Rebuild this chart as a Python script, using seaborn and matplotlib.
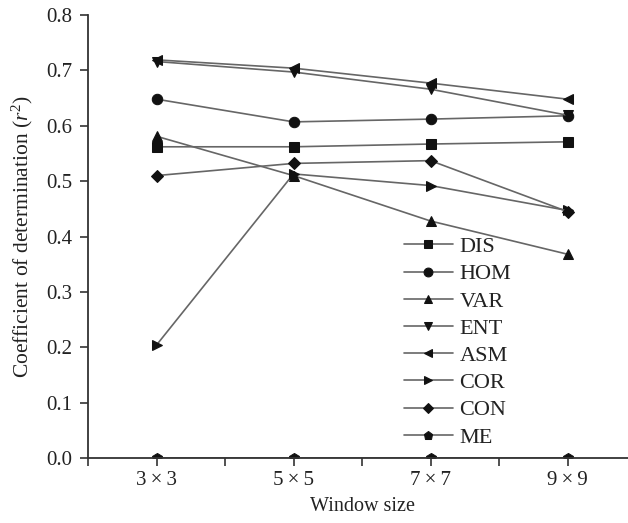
import matplotlib
matplotlib.use("Agg")
import matplotlib.pyplot as plt
import seaborn as sns
import pandas as pd
import numpy as np

window_sizes = ["3\u2009\u00d7\u20093", "5\u2009\u00d7\u20095", "7\u2009\u00d7\u20097", "9\u2009\u00d7\u20099"]
series_names = ["DIS", "HOM", "VAR", "ENT", "ASM", "COR", "CON", "ME"]
DIS = [0.562, 0.562, 0.567, 0.571]
HOM = [0.648, 0.607, 0.612, 0.618]
VAR = [0.581, 0.510, 0.428, 0.368]
ENT = [0.716, 0.697, 0.666, 0.619]
ASM = [0.719, 0.704, 0.677, 0.648]
COR = [0.204, 0.513, 0.492, 0.447]
CON = [0.510, 0.532, 0.537, 0.445]
ME = [0.0, 0.0, 0.0, 0.0]
values = [DIS, HOM, VAR, ENT, ASM, COR, CON, ME]
marker_list = ["s", "o", "^", "v", "<", ">", "D", "p"]

sns.set_style("ticks")
plt.rcParams["font.family"] = ["Liberation Serif", "DejaVu Serif"]
plt.rcParams["mathtext.fontset"] = "custom"
plt.rcParams["mathtext.rm"] = "Liberation Serif"
plt.rcParams["mathtext.it"] = "Liberation Serif:italic"

rows = []
for name, vals in zip(series_names, values):
    for i, v in enumerate(vals):
        rows.append({"pos": i + 1, "value": v, "series": name})
df = pd.DataFrame(rows)

fig = plt.figure(figsize=(6.28, 5.23), dpi=100)
ax = fig.add_axes([88 / 628, 65 / 523, 548 / 628, 443 / 523])

sns.lineplot(data=df, x="pos", y="value", hue="series", style="series",
             hue_order=series_names, style_order=series_names,
             palette=["#666666"] * len(series_names),
             markers=dict(zip(series_names, marker_list)), dashes=False,
             linewidth=1.2, legend=False, ax=ax)

sizes = {"s": 6.5, "o": 7.5, "^": 7.5, "v": 7.5, "<": 7.5, ">": 7.5, "D": 6.5, "p": 7.5}
for line, m in zip(ax.lines, marker_list):
    line.set_markerfacecolor("#111111")
    line.set_markeredgecolor("#111111")
    line.set_markersize(sizes[m])

ax.set_xlim(0.5, 4.5)
ax.set_ylim(0, 0.8)
ax.set_xticks([1, 2, 3, 4])
ax.set_xticklabels(window_sizes)
ax.set_xticks([0.5, 1.5, 2.5, 3.5], minor=True)
ax.set_yticks(np.arange(0, 0.81, 0.1))
ax.set_yticklabels([f"{v:.1f}" for v in np.arange(0, 0.81, 0.1)])
ax.tick_params(axis="both", which="both", direction="out", length=6, width=1.2,
               colors="#333333", labelsize=15, labelcolor="#222222")
ax.tick_params(axis="y", pad=5)
ax.tick_params(axis="x", which="minor", length=6)
for s in ["left", "bottom"]:
    ax.spines[s].set_linewidth(1.3)
    ax.spines[s].set_color("#333333")
ax.spines["top"].set_visible(False)
ax.spines["right"].set_visible(False)

ax.set_xlabel("Window size", fontsize=14.5, color="#222222", labelpad=5)
ax.set_ylabel("Coefficient of determination ($r^2$)", fontsize=15.5, color="#222222", labelpad=8)

leg = ax.legend(ax.lines, series_names, loc="upper left", bbox_to_anchor=(0.556, 0.525),
                frameon=False, fontsize=16, handlelength=2.2, handletextpad=0.3,
                labelspacing=0.3, borderpad=0, markerscale=0.85)
for t in leg.get_texts():
    t.set_color("#222222")

fig.savefig("out.png", dpi=100)
